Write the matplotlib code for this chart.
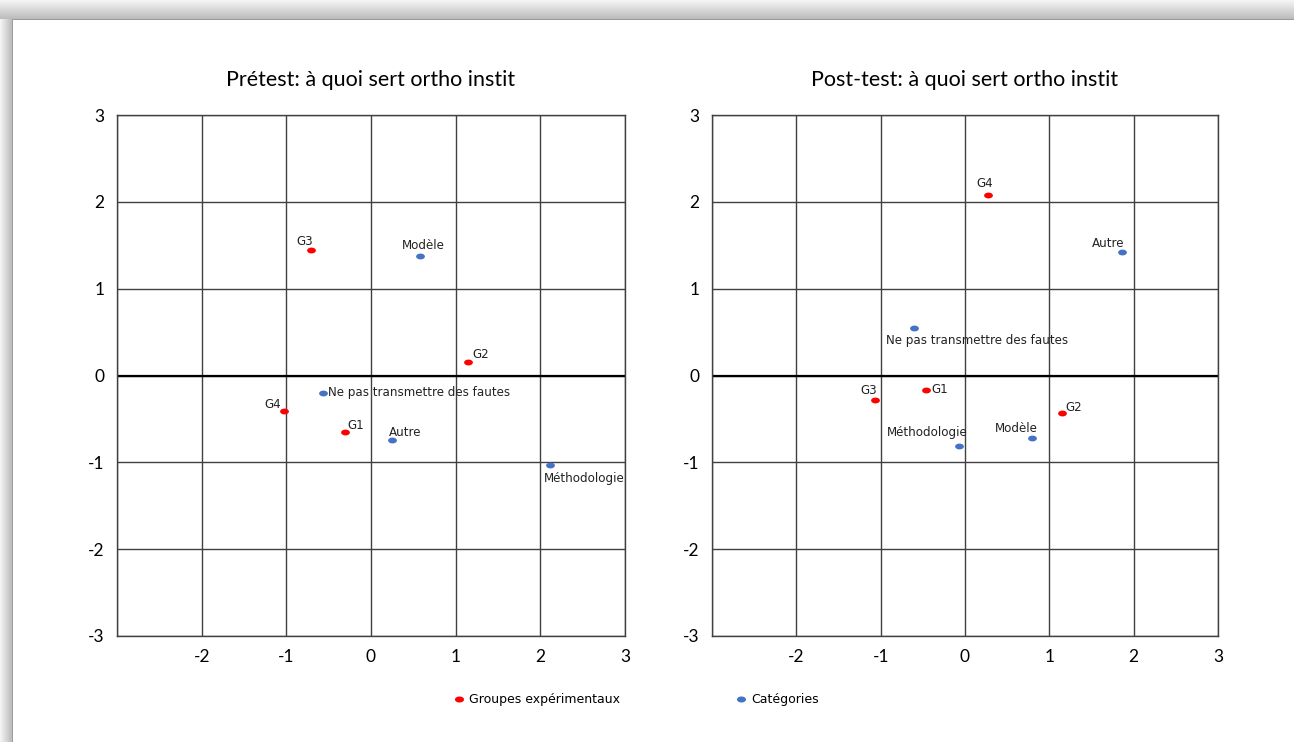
import matplotlib.pyplot as plt
import numpy as np
from matplotlib.lines import Line2D

# Prétest
pre_groupes = ['G1', 'G2', 'G3', 'G4']
pre_groupes_x = [-0.31, 1.15, -0.71, -1.03]
pre_groupes_y = [-0.65, 0.16, 1.44, -0.41]
pre_cat = ['Ne pas transmettre des fautes', 'Modèle', 'Autre', 'Méthodologie']
pre_cat_x = [-0.57, 0.58, 0.25, 2.11]
pre_cat_y = [-0.20, 1.38, -0.74, -1.03]

# Post-test
post_groupes = ['G1', 'G2', 'G3', 'G4']
post_groupes_x = [-0.46, 1.15, -1.07, 0.27]
post_groupes_y = [-0.17, -0.43, -0.28, 2.08]
post_cat = ['Ne pas transmettre des fautes', 'Modèle', 'Autre', 'Méthodologie']
post_cat_x = [-0.60, 0.79, 1.86, -0.07]
post_cat_y = [0.55, -0.72, 1.42, -0.81]

ticks = [-3, -2, -1, 0, 1, 2, 3]

# décalage des étiquettes en pixels (dx, dy, ha)
pre_g_off = [(3, 6, 'left'), (4, 7, 'left'), (-6, 9, 'center'), (-3, 7, 'right')]
pre_c_off = [(5, 0, 'left'), (3, 10, 'center'), (-3, 7, 'left'), (-6, -14, 'left')]
post_g_off = [(5, 1, 'left'), (3, 5, 'left'), (2, 9, 'right'), (-3, 11, 'center')]
post_c_off = [(-28, -13, 'left'), (6, 10, 'right'), (3, 9, 'right'), (9, 13, 'right')]

RED = '#FF0000'
BLUE = '#4472C4'
t = np.linspace(0, 2 * np.pi, 40)
ellipse = np.column_stack([1.5 * np.cos(t), np.sin(t)])

fig = plt.figure(figsize=(12.94, 7.42), dpi=100)

# ombre du cadre
bg = fig.add_axes([0, 0, 1, 1], zorder=-5)
bg.set_xlim(0, 1294)
bg.set_ylim(742, 0)
bg.axis('off')
top = np.linspace(0.96, 0.74, 19)
top = np.append(top, 0.6)[:, None] * np.ones((1, 10))
bg.imshow(np.dstack([top] * 3), extent=(0, 1294, 20, 0), aspect='auto', interpolation='bilinear')
left = np.linspace(0.96, 0.74, 12)
left = np.append(left, 0.62)[None, :] * np.ones((10, 1))
bg.imshow(np.dstack([left] * 3), extent=(0, 13, 742, 19), aspect='auto', interpolation='bilinear')


def panel(rect, title, gx, gy, glab, goff, cx, cy, clab, coff):
    ax = fig.add_axes(rect)
    ax.set_xlim(-3, 3)
    ax.set_ylim(-3, 3)
    ax.set_xticks(ticks)
    ax.set_yticks(ticks)
    ax.set_xticklabels([''] + [str(v) for v in ticks[1:]])
    ax.set_yticklabels([str(v) for v in ticks])
    ax.grid(True, color='#404040', lw=1.0)
    ax.set_axisbelow(True)
    for s in ax.spines.values():
        s.set_color('#404040')
        s.set_linewidth(1.0)
    ax.axhline(0, color='#000000', lw=1.6, zorder=1.5)
    ax.tick_params(length=0, labelsize=12.5, pad=9)
    for lab in ax.get_xticklabels() + ax.get_yticklabels():
        lab.set_fontfamily('Lato')
    ax.set_title(title, fontsize=15.5, family='Lato', pad=21)
    ax.scatter(gx, gy, color=RED, marker=ellipse, s=40, zorder=3, lw=0)
    ax.scatter(cx, cy, color=BLUE, marker=ellipse, s=40, zorder=3, lw=0)
    for xs, ys, labs, offs in ((gx, gy, glab, goff), (cx, cy, clab, coff)):
        for x, y, lab, (dx, dy, ha) in zip(xs, ys, labs, offs):
            ax.annotate(lab, (x, y), xytext=(dx * 0.72, dy * 0.72), textcoords='offset points',
                        ha=ha, va='center', fontsize=8.6, family='DejaVu Sans', color='#222222')
    return ax


panel([117 / 1294, 1 - 636 / 742, 508 / 1294, 521 / 742], 'Prétest: à quoi sert ortho instit',
      pre_groupes_x, pre_groupes_y, pre_groupes, pre_g_off, pre_cat_x, pre_cat_y, pre_cat, pre_c_off)
panel([712 / 1294, 1 - 636 / 742, 506 / 1294, 521 / 742], 'Post-test: à quoi sert ortho instit',
      post_groupes_x, post_groupes_y, post_groupes, post_g_off, post_cat_x, post_cat_y, post_cat, post_c_off)

handles = [Line2D([], [], ls='', marker=ellipse, color=RED, markersize=6.5, mew=0),
           Line2D([], [], ls='', marker=ellipse, color=BLUE, markersize=6.5, mew=0)]
fig.legend(handles, ['Groupes expérimentaux', 'Catégories'], loc='center',
           bbox_to_anchor=(637 / 1294, 1 - 700 / 742), ncol=2, frameon=False,
           prop={'family': 'DejaVu Sans', 'size': 9}, handlelength=0.6, handletextpad=0.5,
           columnspacing=9.4)

fig.savefig('out.png', dpi=100)
